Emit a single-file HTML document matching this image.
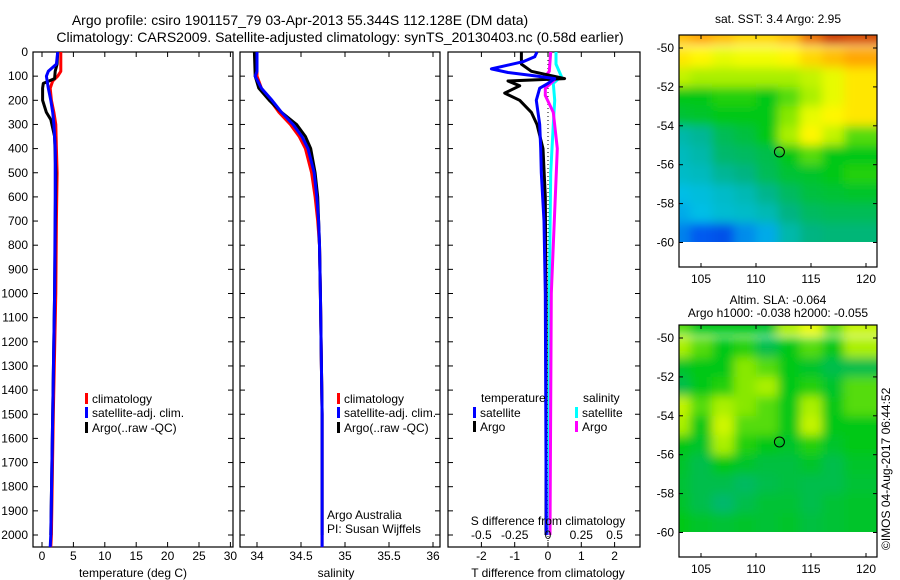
<!DOCTYPE html>
<html><head><meta charset="utf-8">
<style>
html,body{margin:0;padding:0;background:#fff;}
svg{display:block;font-family:"Liberation Sans",Arial,sans-serif;}
</style></head>
<body>
<svg id="chart" width="900" height="580" viewBox="0 0 900 580" xmlns="http://www.w3.org/2000/svg">
<defs>
<filter id="blur" x="0" y="0" width="1" height="1"><feGaussianBlur stdDeviation="5" edgeMode="duplicate"/></filter>
<clipPath id="clipMap1"><rect x="679" y="35" width="198" height="207"/></clipPath>
<clipPath id="clipMap2"><rect x="679" y="325" width="198" height="207"/></clipPath>
</defs>
<text x="300" y="25" font-size="14" text-anchor="middle">Argo profile: csiro 1901157_79 03-Apr-2013 55.344S 112.128E (DM data)</text>
<text x="340" y="42" font-size="14" text-anchor="middle">Climatology: CARS2009. Satellite-adjusted climatology: synTS_20130403.nc (0.58d earlier)</text>
<text x="778" y="23" font-size="12" text-anchor="middle">sat. SST: 3.4 Argo: 2.95</text>
<text x="778" y="304" font-size="12" text-anchor="middle">Altim. SLA: -0.064</text>
<text x="778" y="317" font-size="12" text-anchor="middle">Argo h1000: -0.038 h2000: -0.055</text>
<text x="0" y="0" font-size="12" transform="translate(890,550) rotate(-90)">©IMOS 04-Aug-2017 06:44:52</text>
<g id="g"></g>
</svg>
<script>
// ---------- data ----------
const depthTicks=[0,100,200,300,400,500,600,700,800,900,1000,1100,1200,1300,1400,1500,1600,1700,1800,1900,2000];
const tempTicks=[0,5,10,15,20,25,30];
const salTicks=[34,34.5,35,35.5,36];
const salTickLabels=["34","34.5","35","35.5","36"];
const tdiffTicks=[-2,-1,0,1,2];
const sdiffTicks=[-0.5,-0.25,0,0.25,0.5];
const sdiffTickLabels=["-0.5","-0.25","0","0.25","0.5"];

const tClimDepth=[0,50,80,100,120,150,200,250,300,400,500,700,1000,1500,2000,2050];
const tClimVal=[3.0,3.0,3.0,2.5,1.7,1.3,1.5,1.9,2.2,2.3,2.4,2.3,2.2,1.8,1.5,1.4];
const tSatDepth=[0,50,80,100,150,200,250,300,400,600,1000,1500,2000,2050];
const tSatVal=[2.5,2.3,1.0,0.7,1.0,1.4,1.7,1.9,2.1,2.1,2.0,1.7,1.4,1.3];
const tArgoDepth=[0,50,80,110,130,150,200,250,280,350,500,1000,1500,2000];
const tArgoVal=[2.5,2.4,2.1,2.0,0.2,0.1,0.1,0.7,1.4,2.0,2.2,2.0,1.7,1.4];

const sClimDepth=[0,100,150,200,250,300,350,400,500,600,700,800,1000,1500,2000,2050];
const sClimVal=[34.0,34.0,34.05,34.15,34.25,34.38,34.48,34.55,34.62,34.66,34.69,34.71,34.72,34.74,34.74,34.74];
const sSatDepth=[0,80,100,150,200,250,300,350,400,500,600,700,800,1000,1500,2000,2050];
const sSatVal=[34.0,34.0,33.98,34.05,34.17,34.28,34.41,34.51,34.58,34.65,34.68,34.7,34.71,34.72,34.74,34.74,34.74];
const sArgoDepth=[0,100,150,200,250,300,350,400,500,600,700,800,1000,1500,2000];
const sArgoVal=[33.97,33.98,34.02,34.14,34.28,34.45,34.55,34.61,34.66,34.69,34.7,34.71,34.72,34.74,34.74];

const dTSatDepth=[0,20,40,70,85,100,110,130,150,200,250,300,400,500,700,1000,2000];
const dTSatVal=[-0.33,-0.4,-0.75,-1.7,-1.2,-0.3,0.2,0.0,-0.25,-0.35,-0.3,-0.25,-0.22,-0.2,-0.12,-0.08,-0.05];
const dTArgoDepth=[0,50,80,110,120,140,170,200,250,300,400,600,1000,2000];
const dTArgoVal=[-0.8,-0.8,-0.5,0.5,-1.2,-0.85,-1.3,-0.85,-0.5,-0.33,-0.15,-0.08,-0.06,-0.06];
const dSSatDepth=[0,50,100,130,200,300,500,1000,2000];
const dSSatVal=[0.06,0.06,0.1,0.04,0.05,0.04,0.02,0.01,0.01];
const dSArgoDepth=[0,80,100,110,150,180,250,400,600,1000,2000];
const dSArgoVal=[0.02,0.01,-0.02,0.06,-0.02,-0.02,0.04,0.07,0.055,0.025,0.015];

const mapLats=[-49.3,-50.5,-51.5,-52.5,-53.5,-54.5,-55.5,-56.5,-57.5,-58.5,-59.5];
const mapLons=[103,105,107,109,111,113,115,117,119];
const sstGrid=[
[0.75,0.78,0.75,0.72,0.72,0.75,0.85,0.92,0.9],
[0.7,0.68,0.65,0.66,0.66,0.68,0.72,0.75,0.78],
[0.62,0.6,0.6,0.6,0.6,0.6,0.62,0.65,0.7],
[0.5,0.5,0.52,0.52,0.5,0.55,0.6,0.65,0.7],
[0.47,0.48,0.5,0.5,0.5,0.58,0.65,0.68,0.7],
[0.36,0.38,0.44,0.46,0.5,0.6,0.68,0.62,0.55],
[0.34,0.36,0.42,0.43,0.45,0.5,0.55,0.5,0.5],
[0.33,0.34,0.38,0.4,0.44,0.47,0.48,0.5,0.52],
[0.3,0.31,0.33,0.35,0.39,0.43,0.46,0.47,0.48],
[0.28,0.3,0.32,0.33,0.35,0.4,0.43,0.44,0.44],
[0.24,0.2,0.18,0.25,0.28,0.36,0.4,0.41,0.41]];
const slaGrid=[
[0.55,0.5,0.5,0.5,0.48,0.6,0.65,0.55,0.62],
[0.6,0.55,0.5,0.52,0.45,0.5,0.55,0.5,0.6],
[0.48,0.5,0.5,0.58,0.55,0.5,0.48,0.45,0.45],
[0.45,0.5,0.52,0.58,0.6,0.5,0.52,0.48,0.55],
[0.62,0.55,0.6,0.58,0.55,0.5,0.6,0.5,0.55],
[0.6,0.5,0.63,0.55,0.55,0.5,0.62,0.5,0.5],
[0.5,0.48,0.6,0.52,0.5,0.48,0.52,0.48,0.5],
[0.48,0.45,0.5,0.48,0.46,0.46,0.48,0.45,0.48],
[0.47,0.45,0.45,0.43,0.45,0.46,0.45,0.45,0.47],
[0.48,0.45,0.42,0.45,0.47,0.47,0.45,0.47,0.48],
[0.5,0.48,0.47,0.48,0.47,0.48,0.46,0.47,0.48]];
const argoLat=-55.344, argoLon=112.128;
const mapLatTicks=[-50,-52,-54,-56,-58,-60];
const mapLonTicks=[105,110,115,120];

// ---------- helpers ----------
const NS="http://www.w3.org/2000/svg";
const G=document.getElementById('g');
function mk(tag,attrs,parent){const e=document.createElementNS(NS,tag);for(const k in attrs)e.setAttribute(k,attrs[k]);(parent||G).appendChild(e);return e;}
const TOP=52, BOT=547;
const yD=d=>TOP+d*0.2415;
const xT=t=>42+t*6.28;
const xS=s=>257+(s-34)*88;
const xDT=t=>548+t*33.3;
const xDS=s=>548+s*133.2;

function frame(x0,x1,name){
  const r=mk('rect',{x:x0,y:TOP,width:x1-x0,height:BOT-TOP,fill:'none',stroke:'#000','stroke-width':1.2});
  
  
  depthTicks.forEach(d=>{
    const t1=mk('line',{x1:x0,x2:x0+5,y1:yD(d),y2:yD(d),stroke:'#000'});
    
    
    const t2=mk('line',{x1:x1-5,x2:x1,y1:yD(d),y2:yD(d),stroke:'#000'});
    
    
  });
}
function xticks(vals,fx,labels,ly,name){
  vals.forEach((v,i)=>{
    const x=fx(v);
    const a=mk('line',{x1:x,x2:x,y1:TOP,y2:TOP+5,stroke:'#000'});
    
    
    const b=mk('line',{x1:x,x2:x,y1:BOT-5,y2:BOT,stroke:'#000'});
    
    
    if(labels){
      const t=mk('text',{x:x,y:ly,'font-size':12,'text-anchor':'middle'});
      t.textContent=labels[i];
      
      
    }
  });
}
function line(depths,vals,fx,color,name,w){
  const pts=depths.map((d,i)=>fx(vals[i]).toFixed(1)+','+yD(d).toFixed(1)).join(' ');
  const p=mk('polyline',{points:pts,fill:'none',stroke:color,'stroke-width':w||3,'stroke-linejoin':'round'});
  
  
}
function txt(x,y,s,name,anchor,size){
  const t=mk('text',{x:x,y:y,'font-size':size||12,'text-anchor':anchor||'start'});
  t.textContent=s;
  
  
}
function legend(x,y,color,label,name){
  const r=mk('rect',{x:x,y:y-10,width:3,height:11,fill:color});
  
  
  txt(x+7,y,label,name+'-label');
}

// ---------- panel 1: temperature ----------
frame(33,233,'temperature-panel-frame');
depthTicks.forEach(d=>{txt(28,yD(d)+4,String(d),'depth-tick-label','end');});
xticks(tempTicks,xT,tempTicks.map(String),560,'temperature-axis');
txt(133,577,'temperature (deg C)','temperature-axis-title','middle');
line(tClimDepth,tClimVal,xT,'#ff0000','temp-climatology-line');
line(tArgoDepth,tArgoVal,xT,'#000000','temp-argo-line');
line(tSatDepth,tSatVal,xT,'#0000ff','temp-satellite-line');
legend(85,403,'#ff0000','climatology','temp-legend-climatology');
legend(85,417,'#0000ff','satellite-adj. clim.','temp-legend-satellite');
legend(85,432,'#000000','Argo(..raw -QC)','temp-legend-argo');

// ---------- panel 2: salinity ----------
frame(240,440,'salinity-panel-frame');
xticks(salTicks,xS,salTickLabels,560,'salinity-axis');
txt(336,577,'salinity','salinity-axis-title','middle');
line(sClimDepth,sClimVal,xS,'#ff0000','sal-climatology-line');
line(sArgoDepth,sArgoVal,xS,'#000000','sal-argo-line');
line(sSatDepth,sSatVal,xS,'#0000ff','sal-satellite-line');
legend(337,403,'#ff0000','climatology','sal-legend-climatology');
legend(337,417,'#0000ff','satellite-adj. clim.','sal-legend-satellite');
legend(337,432,'#000000','Argo(..raw -QC)','sal-legend-argo');
txt(327,519,'Argo Australia','credit-argo-australia');
txt(327,533,'PI: Susan Wijffels','credit-pi');

// ---------- panel 3: differences ----------
frame(448,640,'difference-panel-frame');
xticks(tdiffTicks,xDT,tdiffTicks.map(String),560,'tdiff-axis');
const zl=mk('line',{x1:xDT(0),x2:xDT(0),y1:TOP,y2:BOT,stroke:'#000','stroke-dasharray':'1,3'});


line(dSSatDepth,dSSatVal,xDS,'#00ffff','sdiff-satellite-line');
line(dSArgoDepth,dSArgoVal,xDS,'#ff00ff','sdiff-argo-line');
line(dTArgoDepth,dTArgoVal,xDT,'#000000','tdiff-argo-line');
line(dTSatDepth,dTSatVal,xDT,'#0000ff','tdiff-satellite-line');
sdiffTicks.forEach((v,i)=>{txt(xDS(v),539,sdiffTickLabels[i],'sdiff-tick-label','middle');});
txt(548,525,'S difference from climatology','sdiff-axis-title','middle');
txt(548,577,'T difference from climatology','tdiff-axis-title','middle');
txt(481,402,'temperature','diff-legend-temperature-header');
legend(473,417,'#0000ff','satellite','tdiff-legend-satellite');
legend(473,431,'#000000','Argo','tdiff-legend-argo');
txt(583,402,'salinity','diff-legend-salinity-header');
legend(575,417,'#00ffff','satellite','sdiff-legend-satellite');
legend(575,431,'#ff00ff','Argo','sdiff-legend-argo');

// ---------- maps ----------
const cmapStops=[[0,0,0,170],[0.2,0,90,240],[0.3,0,190,230],[0.4,0,180,130],[0.5,0,200,20],[0.6,170,240,0],[0.67,255,255,0],[0.8,255,150,0],[1,170,0,0]];
function cmap(v){
  v=Math.max(0,Math.min(1,v));
  for(let i=1;i<cmapStops.length;i++){
    const a=cmapStops[i-1],b=cmapStops[i];
    if(v<=b[0]){const f=(v-a[0])/(b[0]-a[0]);
      return 'rgb('+Math.round(a[1]+f*(b[1]-a[1]))+','+Math.round(a[2]+f*(b[2]-a[2]))+','+Math.round(a[3]+f*(b[3]-a[3]))+')';}
  }
  return 'rgb(170,0,0)';
}
function drawMap(grid,top,name,clipId){
  const L=679,R=877,B=top+232;
  const yL=lat=>top+13+(-50-lat)*19.45;
  const xL=lon=>701+(lon-105)*11;
  const cg=mk('g',{'clip-path':'url(#'+clipId+')'});
  
  
  const bg=mk('g',{filter:'url(#blur)'},cg);
  grid.forEach((row,ri)=>{
    const lat=mapLats[ri];
    const y0=ri===0?top-10:yL(lat+0.5);
    const y1=ri===grid.length-1?yL(-60)+10:yL(lat-0.5);
    row.forEach((v,ci)=>{
      const lon=mapLons[ci];
      const x0=ci===0?L-10:xL(lon-1);
      const x1=ci===row.length-1?R+10:xL(lon+1);
      const c=mk('rect',{x:x0,y:y0,width:x1-x0+0.5,height:y1-y0+0.5,fill:cmap(v)},bg);
      
      
    });
  });
  const box=mk('rect',{x:L,y:top,width:R-L,height:B-top,fill:'none',stroke:'#000','stroke-width':1.2});
  
  
  mapLatTicks.forEach(lat=>{
    const y=yL(lat);
    const a=mk('line',{x1:L,x2:L+4,y1:y,y2:y,stroke:'#000'});
    
    
    const b=mk('line',{x1:R-4,x2:R,y1:y,y2:y,stroke:'#000'});
    
    
    txt(L-5,y+4,String(lat),name+'-lat-label','end');
  });
  mapLonTicks.forEach(lon=>{
    const x=xL(lon);
    const a=mk('line',{x1:x,x2:x,y1:top,y2:top+4,stroke:'#000'});
    
    
    const b=mk('line',{x1:x,x2:x,y1:B-4,y2:B,stroke:'#000'});
    
    
    txt(x,B+16,String(lon),name+'-lon-label','middle');
  });
  const m=mk('circle',{cx:xL(argoLon),cy:yL(argoLat),r:5,fill:'none',stroke:'#000','stroke-width':1});
  
  
}
drawMap(sstGrid,35,'sst-map','clipMap1');
drawMap(slaGrid,325,'sla-map','clipMap2');
</script>
</body></html>
